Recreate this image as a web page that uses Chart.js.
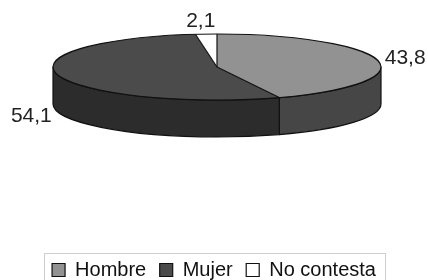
<!DOCTYPE html>
<html>
<head>
<meta charset="utf-8">
<script src="https://cdn.jsdelivr.net/npm/chart.js@4.4.1/dist/chart.umd.min.js"></script>
<style>
  html, body { margin: 0; padding: 0; background: #fff; overflow: hidden; }
  #wrap { width: 428px; height: 290px; position: relative; }
</style>
</head>
<body>
<div id="wrap"><canvas id="c"></canvas></div>
<script>
const categories = ['Hombre', 'Mujer', 'No contesta'];
const values = [43.8, 54.1, 2.1];
const valueLabels = ['43,8', '54,1', '2,1'];
const topColors = ['#929292', '#4b4b4b', '#ffffff'];
const sideColors = ['#464646', '#2c2c2c', '#e0e0e0'];

// 3D ellipse geometry (presentation only)
const GEO = { cx: 217, cy: 67, rx: 164, ry: 33, depth: 37 };

function ePt(a, dy) {
  return [GEO.cx + GEO.rx * Math.cos(a), GEO.cy + GEO.ry * Math.sin(a) + (dy || 0)];
}

const pie3d = {
  id: 'pie3d',
  beforeDatasetsDraw(chart) {
    const ctx = chart.ctx;
    const meta = chart.getDatasetMeta(0);
    meta.data.forEach((arc, i) => {
      const s = Math.max(arc.startAngle, 0);
      const e = Math.min(arc.endAngle, Math.PI);
      if (e <= s) return;
      ctx.save();
      ctx.beginPath();
      ctx.ellipse(GEO.cx, GEO.cy, GEO.rx, GEO.ry, 0, s, e, false);
      ctx.ellipse(GEO.cx, GEO.cy + GEO.depth, GEO.rx, GEO.ry, 0, e, s, true);
      ctx.closePath();
      ctx.fillStyle = sideColors[i];
      ctx.fill();
      ctx.lineWidth = 1.2;
      ctx.strokeStyle = '#111';
      ctx.lineJoin = 'round';
      ctx.stroke();
      ctx.restore();
    });
    const a0 = meta.data[0];
    const r = a0.outerRadius;
    ctx.save();
    ctx.translate(GEO.cx, GEO.cy);
    ctx.scale(GEO.rx / r, GEO.ry / r);
    ctx.translate(-a0.x, -a0.y);
  },
  afterDatasetsDraw(chart) {
    const ctx = chart.ctx;
    ctx.restore();
    const meta = chart.getDatasetMeta(0);
    ctx.save();
    ctx.strokeStyle = '#111';
    ctx.lineWidth = 1.2;
    ctx.beginPath();
    ctx.ellipse(GEO.cx, GEO.cy, GEO.rx, GEO.ry, 0, 0, Math.PI * 2);
    ctx.stroke();
    meta.data.forEach((arc) => {
      const p = ePt(arc.startAngle);
      ctx.beginPath();
      ctx.moveTo(GEO.cx, GEO.cy);
      ctx.lineTo(p[0], p[1]);
      ctx.stroke();
    });
    ctx.fillStyle = '#222';
    ctx.font = '21px "Liberation Sans", Arial, sans-serif';
    ctx.textBaseline = 'middle';
    meta.data.forEach((arc, i) => {
      const m = (arc.startAngle + arc.endAngle) / 2;
      const c = Math.cos(m), s = Math.sin(m);
      let x = GEO.cx + (GEO.rx + 7) * c;
      let y = GEO.cy + (GEO.ry + 14) * s + (s > 0 ? GEO.depth : 0);
      if (Math.abs(c) < 0.3) { ctx.textAlign = 'center'; x -= 5; y += 1; }
      else ctx.textAlign = c > 0 ? 'left' : 'right';
      ctx.fillText(valueLabels[i], x, y);
    });
    ctx.restore();
  },
  afterDraw(chart) {
    const lg = chart.legend;
    if (!lg || !lg.legendHitBoxes || !lg.legendHitBoxes.length) return;
    const hb = lg.legendHitBoxes;
    const first = hb[0], last = hb[hb.length - 1];
    const ctx = chart.ctx;
    ctx.save();
    ctx.strokeStyle = '#cfcfcf';
    ctx.lineWidth = 1;
    const left = Math.round(first.left - 8) + 0.5;
    const right = Math.round(last.left + last.width + 9) + 0.5;
    const top = Math.round(first.top - 7) + 0.5;
    ctx.strokeRect(left, top, right - left, 60);
    ctx.restore();
  }
};

new Chart(document.getElementById('c'), {
  type: 'pie',
  data: {
    labels: categories,
    datasets: [{
      data: values,
      backgroundColor: topColors,
      borderWidth: 0
    }]
  },
  options: {
    responsive: true,
    maintainAspectRatio: false,
    animation: false,
    events: [],
    layout: { padding: 0 },
    plugins: {
      tooltip: { enabled: false },
      legend: {
        position: 'bottom',
        labels: {
          boxWidth: 13,
          boxHeight: 13,
          padding: 13.5,
          color: '#111',
          font: { size: 20, family: '"Liberation Sans", Arial, sans-serif' },
          generateLabels(chart) {
            const base = Chart.overrides.pie.plugins.legend.labels.generateLabels(chart);
            return base.map(it => Object.assign(it, { strokeStyle: '#111', lineWidth: 1.2 }));
          }
        }
      }
    }
  },
  plugins: [pie3d]
});
</script>
</body>
</html>
